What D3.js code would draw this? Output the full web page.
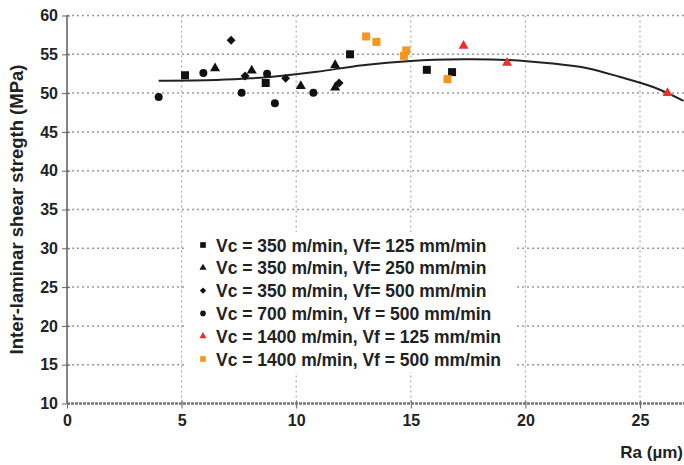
<!DOCTYPE html>
<html>
<head>
<meta charset="utf-8">
<script src="https://cdn.jsdelivr.net/npm/d3@7"></script>
<style>
  body { margin: 0; background: #fff; }
  text { font-family: "Liberation Sans", Arial, sans-serif; font-weight: bold; fill: #222; }
</style>
</head>
<body>
<script>
// Valeurs : [Ra (µm), ILSS (MPa)]
const series = [
    { label: "Vc = 350 m/min, Vf= 125 mm/min", shape: "square", color: "#111" },
    { label: "Vc = 350 m/min, Vf= 250 mm/min", shape: "triangle", color: "#111" },
    { label: "Vc = 350 m/min, Vf= 500 mm/min", shape: "diamond", color: "#111" },
    { label: "Vc = 700 m/min, Vf = 500 mm/min", shape: "circle", color: "#111" },
    { label: "Vc = 1400 m/min, Vf = 125 mm/min", shape: "triangle", color: "#e8302c" },
    { label: "Vc = 1400 m/min, Vf = 500 mm/min", shape: "square", color: "#f7961e" }
];

const sq350_125 = [[5.15, 52.3], [8.67, 51.3], [12.35, 55.0], [15.7, 53.0], [16.8, 52.7]];
const tri350_250 = [[6.46, 53.2], [8.06, 52.9], [10.2, 50.9], [11.7, 53.6], [11.7, 50.7]];
const dia350_500 = [[7.16, 56.8], [7.77, 52.2], [9.54, 51.9], [11.87, 51.3]];
const circ700_500 = [[4.0, 49.5], [5.95, 52.6], [7.62, 50.05], [8.73, 52.5], [9.07, 48.7], [10.75, 50.05]];
const tri1400_125 = [[17.3, 56.1], [19.2, 53.9], [26.2, 50.0]];
const sq1400_500 = [[13.05, 57.3], [13.5, 56.6], [14.8, 55.5], [14.7, 54.8], [16.6, 51.8]];
const seriesData = [sq350_125, tri350_250, dia350_500, circ700_500, tri1400_125, sq1400_500];

// Courbe de tendance
const trend = [[4, 51.6], [6.5, 51.7], [8, 51.9], [9.4, 52.25], [10.9, 52.75], [12.9, 53.6], [15, 54.15],
    [17.3, 54.35], [19.2, 54.27], [21.2, 53.8], [22.7, 53.2], [24.1, 52.1], [25.6, 50.75], [26.9, 49.0]];

const xTicks = [0, 5, 10, 15, 20, 25];
const yTicks = [10, 15, 20, 25, 30, 35, 40, 45, 50, 55, 60];

const width = 684, height = 465;
const x0 = 67, y60 = 15.5, y10 = 403.5;
const xScale = d3.scaleLinear().domain([0, 25]).range([x0, 640]);
const yScale = d3.scaleLinear().domain([10, 60]).range([y10, y60]);

const svg = d3.select("body").append("svg").attr("width", width).attr("height", height);
const plot = svg.append("g");

// Grille pointillée
plot.selectAll(".hgrid")
    .data(yTicks.filter(d => d > 10))
    .enter().append("line")
    .attr("x1", x0).attr("x2", width)
    .attr("y1", d => yScale(d)).attr("y2", d => yScale(d))
    .style("stroke", "#999").style("stroke-width", 1.5).style("stroke-dasharray", "2,3");

plot.selectAll(".vgrid")
    .data(xTicks.filter(d => d > 0))
    .enter().append("line")
    .attr("x1", d => xScale(d)).attr("x2", d => xScale(d))
    .attr("y1", y60).attr("y2", y10)
    .style("stroke", "#aaa").style("stroke-width", 1.2).style("stroke-dasharray", "2,3");

// Axes
const yAxis = d3.axisLeft(yScale).tickValues(yTicks).tickSize(5).tickPadding(4);
const yG = svg.append("g").attr("transform", `translate(${x0},0)`).call(yAxis);
const xAxis = d3.axisBottom(xScale).tickValues(xTicks).tickSize(5).tickPadding(6);
const xG = svg.append("g").attr("transform", `translate(0,${y10})`).call(xAxis);

[yG, xG].forEach(g => {
    g.select(".domain").remove();
    g.selectAll(".tick line").style("stroke", "#666").style("stroke-width", 1);
    g.selectAll("text").style("font-size", "16px").style("font-family", "'Liberation Sans', Arial, sans-serif")
        .style("font-weight", "bold").style("fill", "#222");
});
yG.selectAll(".tick line").attr("x2", -5).attr("x1", 3);
xG.selectAll(".tick line").attr("y1", -3);

svg.append("line")
    .attr("x1", x0).attr("x2", x0).attr("y1", y60).attr("y2", y10)
    .style("stroke", "#666").style("stroke-width", 1.6);
svg.append("line")
    .attr("x1", x0).attr("x2", width).attr("y1", y10).attr("y2", y10)
    .style("stroke", "#777").style("stroke-width", 2.5).style("stroke-dasharray", "3,1");

// Titres
svg.append("text")
    .attr("transform", `translate(23,${(y60 + y10) / 2}) rotate(-90)`)
    .attr("text-anchor", "middle")
    .style("font-size", "18.5px")
    .text("Inter-laminar shear stregth (MPa)");

svg.append("text")
    .attr("x", 683).attr("y", 458)
    .attr("text-anchor", "end")
    .style("font-size", "17px")
    .text("Ra (µm)");

// Courbe
const line = d3.line()
    .x(d => xScale(d[0]))
    .y(d => yScale(d[1]))
    .curve(d3.curveCatmullRom);

plot.append("path")
    .datum(trend)
    .attr("d", line)
    .style("fill", "none")
    .style("stroke", "#222")
    .style("stroke-width", 2);

// Symboles (le losange est un carré tourné de 45°)
const symbolTypes = {
    square: d3.symbolSquare,
    triangle: d3.symbolTriangle,
    diamond: d3.symbolSquare,
    circle: d3.symbolCircle
};
const symbolSizes = { square: 64, triangle: 44, diamond: 40, circle: 50 };

function symbolPath(shape, scale) {
    return d3.symbol().type(symbolTypes[shape]).size(symbolSizes[shape] * (scale || 1))();
}
function symbolRotate(shape) {
    return shape === "diamond" ? " rotate(45)" : "";
}

series.forEach((s, i) => {
    plot.selectAll(".pt" + i)
        .data(seriesData[i])
        .enter().append("path")
        .attr("transform", d => `translate(${xScale(d[0])},${yScale(d[1])})${symbolRotate(s.shape)}`)
        .attr("d", symbolPath(s.shape))
        .style("fill", s.color);
});

// Légende
const legend = svg.append("g").attr("transform", "translate(185,232)");
legend.append("rect")
    .attr("width", 330).attr("height", 140)
    .style("fill", "#fff");

const rows = legend.selectAll(".row")
    .data(series)
    .enter().append("g")
    .attr("transform", (d, i) => `translate(0,${13 + i * 22.8})`);

rows.append("path")
    .attr("transform", d => `translate(18,0)${symbolRotate(d.shape)}`)
    .attr("d", d => symbolPath(d.shape, 0.5))
    .style("fill", d => d.color);

rows.append("text")
    .attr("x", 31).attr("y", 6.5)
    .style("font-size", "17.5px")
    .text(d => d.label);
</script>
</body>
</html>
